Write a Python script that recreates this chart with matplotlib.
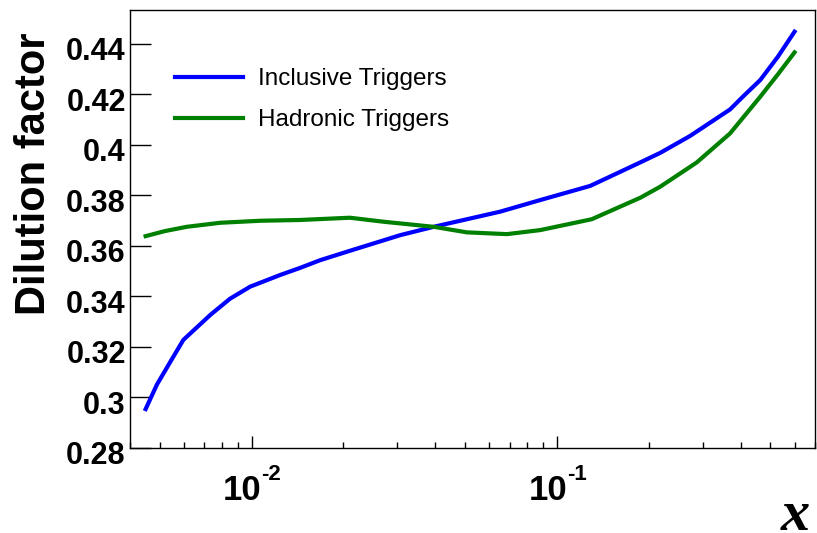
import matplotlib
matplotlib.use('Agg')
import matplotlib.pyplot as plt
import matplotlib.transforms as mtransforms
from matplotlib.ticker import LogLocator, NullFormatter, FixedLocator

# values
x_incl = [0.0045, 0.0049, 0.00542, 0.00598, 0.00733, 0.0085, 0.0099, 0.0124, 0.0144, 0.0168,
          0.021, 0.0307, 0.0395, 0.0652, 0.0882, 0.1285, 0.1874, 0.218, 0.273, 0.369, 0.41,
          0.463, 0.53, 0.6]
dil_incl = [0.2953, 0.3050, 0.3140, 0.3227, 0.3326, 0.3390, 0.3438, 0.3484, 0.3512, 0.3543,
            0.3580, 0.3642, 0.3675, 0.3735, 0.3781, 0.3837, 0.3930, 0.3968, 0.4035, 0.4140, 0.4195,
            0.4256, 0.4350, 0.4448]

x_had = [0.0045, 0.0052, 0.00614, 0.0079, 0.0107, 0.0144, 0.021, 0.0271, 0.0395, 0.0507, 0.0686,
         0.0882, 0.13, 0.1874, 0.218, 0.287, 0.369, 0.463, 0.53, 0.6]
dil_had = [0.3638, 0.3658, 0.3675, 0.3691, 0.3699, 0.3702, 0.3711, 0.3695, 0.3675, 0.3653, 0.3646,
           0.3662, 0.3705, 0.3790, 0.3834, 0.3930, 0.4045, 0.4190, 0.4280, 0.4366]

labels = ['Inclusive Triggers', 'Hadronic Triggers']
x_major = [0.01, 0.1]
x_exp = ['-2', '-1']

fig = plt.figure(figsize=(8.17, 5.33), dpi=100)
ax = fig.add_axes([130/817, 1 - 447.7/533, 685/817, 438/533])

ax.plot(x_incl, dil_incl, color='#0000ff', lw=3, label=labels[0], solid_joinstyle='round')
ax.plot(x_had, dil_had, color='#008000', lw=3, label=labels[1], solid_joinstyle='round')

ax.set_xscale('log')
ax.set_xlim(0.004, 0.7)
ax.set_ylim(0.28, 0.4535)

ax.xaxis.set_major_locator(FixedLocator(x_major))
ax.xaxis.set_minor_locator(LogLocator(base=10, subs=range(2, 10)))
ax.xaxis.set_minor_formatter(NullFormatter())
ax.set_xticklabels(['', ''])

# ROOT style "10" + raised exponent
tr = mtransforms.blended_transform_factory(ax.transData, ax.transAxes)
dx = mtransforms.ScaledTranslation(10/100, 0, fig.dpi_scale_trans)
for xv, ex in zip(x_major, x_exp):
    ax.text(xv, -52.3/438, '10', transform=tr + dx, ha='right', va='baseline',
            fontsize=25, fontweight='bold', family='Liberation Sans')
    ax.text(xv, -32.3/438, ex, transform=tr + dx, ha='left', va='baseline',
            fontsize=16, fontweight='bold', family='Liberation Sans')

yt = [0.28, 0.30, 0.32, 0.34, 0.36, 0.38, 0.40, 0.42, 0.44]
ax.set_yticks(yt)
ax.set_yticklabels(['0.28', '0.3', '0.32', '0.34', '0.36', '0.38', '0.4', '0.42', '0.44'],
                   fontsize=22, fontweight='bold', family='Liberation Sans')

ax.tick_params(axis='y', which='major', direction='in', length=15, width=1, pad=3,
               right=False)
ax.tick_params(axis='x', which='major', direction='in', length=8.5, width=1, top=False)
ax.tick_params(axis='x', which='minor', direction='in', length=4, width=1, top=False)
for sp in ax.spines.values():
    sp.set_linewidth(1.0)

# ROOT puts the y labels a little lower than the tick
off = mtransforms.ScaledTranslation(0, -5/100, fig.dpi_scale_trans)
for lab in ax.get_yticklabels():
    lab.set_transform(lab.get_transform() + off)

fig.text(34/817, 1 - 174/533, 'Dilution factor', rotation=90, ha='center', va='center',
         fontsize=30, fontweight='bold', family='Liberation Sans')
fig.text(0.992, 1 - 530/533, 'x', ha='right', va='baseline', fontsize=42,
         fontweight='bold', style='italic', family='Liberation Serif')

ax.legend(loc='upper left', bbox_to_anchor=(0.066, 0.866), frameon=False,
          prop={'family': 'Liberation Sans', 'size': 17.5},
          handlelength=2.8, handletextpad=0.6, labelspacing=0.78,
          borderpad=0, borderaxespad=0)

fig.savefig('out.png', dpi=100)
